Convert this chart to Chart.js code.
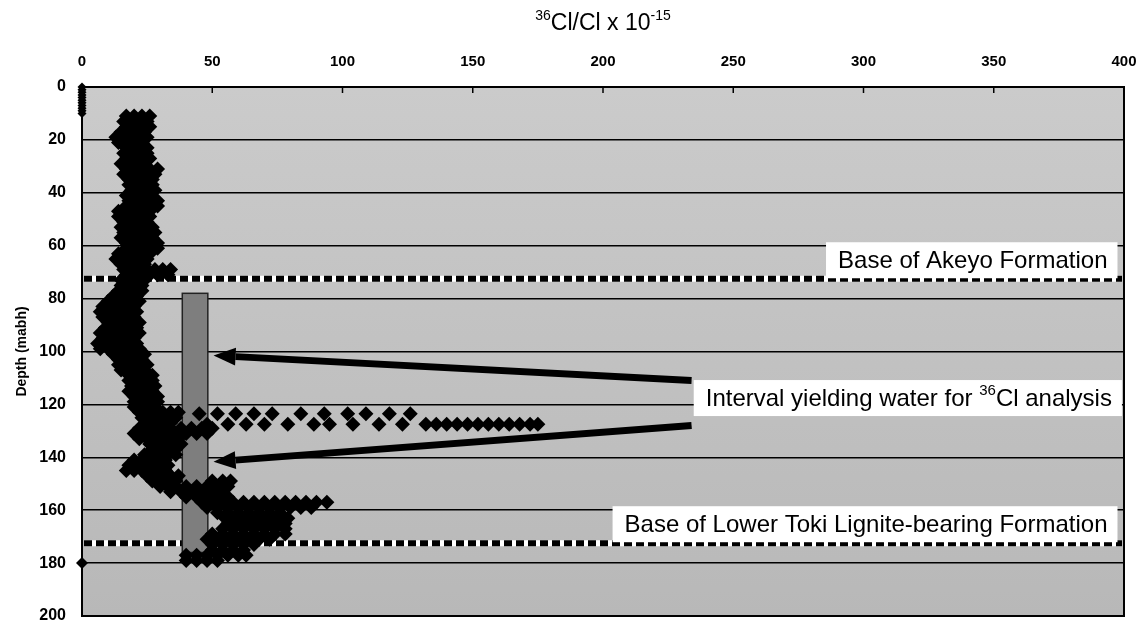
<!DOCTYPE html>
<html lang="en">
<head>
<meta charset="UTF-8">
<title>36Cl/Cl depth profile</title>
<script src="https://cdn.jsdelivr.net/npm/chart.js@4.4.1/dist/chart.umd.min.js"></script>
<style>
  html, body { margin: 0; padding: 0; background: #ffffff; }
  #wrap { width: 1146px; height: 626px; }
</style>
</head>
<body>
<div id="wrap"><canvas id="profile" width="1146" height="626"></canvas></div>
<script>
// depth (mabh) of each row of readings, and the 36Cl/Cl (x 10^-15) values read at that depth
const rowDepth = [
  11, 13, 15, 17, 19, 21, 23, 25, 27, 29,
  31, 33, 35, 37, 39, 41, 43, 45, 47, 49,
  51, 53, 55, 57, 59, 61, 63, 65, 67, 69,
  71, 73, 75, 77, 79, 81, 83, 85, 87, 89,
  91, 93, 95, 97, 99, 101, 103, 105, 107, 109,
  111, 113, 115, 117, 119, 121, 123, 123.5, 125, 127,
  127.5, 129, 131, 133, 135, 137, 139, 141, 143, 145,
  147, 149, 151, 153, 155, 157, 159, 161, 163, 165,
  167, 169, 171, 173, 175, 177, 179
];
const rowRatio = [
  [17, 20, 23, 26], [16, 19, 22, 25], [17, 20, 23, 26], [15, 18, 21, 24], [13, 16, 19, 22, 25],
  [14, 17, 20, 23], [17, 20, 23, 25], [16, 19, 22, 25], [17, 20, 23, 26], [15, 18, 21, 24],
  [17, 20, 23, 26, 29], [16, 19, 22, 25, 28], [18, 21, 24, 27], [18, 21, 24, 27], [19, 22, 25, 28],
  [17, 20, 23, 26], [18, 21, 24, 27, 29], [17, 20, 23, 26, 29], [14, 17, 20, 23, 26], [14, 17, 20, 23, 26],
  [16, 19, 22, 25], [15, 18, 21, 24, 27], [16, 19, 22, 25, 28], [15, 18, 21, 24, 27], [17, 20, 23, 26, 29],
  [17, 20, 23, 26, 29], [14, 17, 20, 23, 26], [13, 16, 19, 22, 25], [15, 18, 21, 24], [16, 19, 22, 25, 28, 31, 34],
  [17, 20, 23, 26, 29, 33], [15, 18, 21, 24], [15, 18, 21, 23], [14, 17, 20, 23], [12, 15, 18, 21],
  [10, 13, 16, 19, 22], [8, 11, 14, 17, 20], [7, 10, 13, 16, 19, 21], [8, 11, 14, 17, 20], [10, 13, 16, 19, 22],
  [9, 12, 15, 18, 21], [7, 10, 13, 16, 19, 22], [8, 11, 14, 17, 20], [6, 9, 12, 15, 18, 21], [7, 10, 13, 16, 19, 22],
  [12, 15, 18, 21, 24], [14, 17, 20, 23], [14, 17, 20, 23, 25], [15, 18, 21, 24], [18, 21, 24, 27],
  [18, 21, 24, 27], [19, 22, 25, 28], [18, 21, 24, 27], [20, 23, 26, 29], [20, 23, 26, 29],
  [20, 23, 26, 28], [22, 25, 28, 31, 34, 37],
  [45, 52, 59, 66, 73, 84, 93, 102, 109, 118, 126],
  [23, 26, 29, 32, 36], [25, 28, 31, 34],
  [48, 56, 63, 70, 79, 89, 95, 104, 114, 123, 132, 136, 140, 144, 148, 152, 156, 160, 164, 168, 172, 175],
  [22, 25, 28, 31, 34, 38, 42, 46, 50], [20, 23, 26, 29, 32, 36, 40, 44, 48], [22, 25, 28, 31, 34, 37],
  [26, 29, 32, 35, 38], [27, 30, 33, 36], [24, 27, 30, 33, 36], [20, 23, 26, 29, 32],
  [18, 21, 24, 27, 30, 33], [17, 20, 23, 26, 29, 32],
  [25, 28, 31, 34, 37], [27, 30, 33, 36, 50, 54, 57], [30, 33, 36, 40, 44, 48, 52, 56],
  [34, 38, 42, 46, 50, 54], [40, 44, 48, 52, 56],
  [46, 50, 54, 58, 62, 66, 70, 74, 78, 82, 86, 90, 94], [48, 52, 56, 60, 64, 68, 72, 76, 80, 84, 88],
  [52, 56, 60, 64, 68, 72, 76], [55, 59, 63, 67, 71, 75, 79], [56, 60, 64, 68, 72, 76, 78],
  [54, 58, 62, 66, 70, 74, 78], [50, 54, 58, 62, 66, 70, 74, 78], [48, 52, 56, 60, 64, 68, 72],
  [50, 54, 58, 62, 66], [50, 54, 58, 62], [40, 44, 48, 52, 56, 60, 63], [40, 44, 48, 52]
];

// shallow readings plotted at zero, and the single zero reading at the bottom
const surfaceDepth = [0, 1, 2, 3, 4, 5, 6, 7, 8, 9, 10];
const surfaceRatio = [0, 0, 0, 0, 0, 0, 0, 0, 0, 0, 0];
const bottomDepth = [180];
const bottomRatio = [0];

// formation boundaries
const formationDepth = [72.5, 172.5];
const formationName = ['Base of Akeyo Formation', 'Base of Lower Toki Lignite-bearing Formation'];

// sampled interval (the grey bar)
const intervalRatio = [38.5, 48.3];
const intervalDepth = [78, 176];

// arrows from the label to the interval: [ratio, depth]
const arrowFrom = [[234, 111], [234, 128]];
const arrowTo = [[50.5, 101.5], [50.5, 141.7]];

const FONT = '"Liberation Sans", Arial, Helvetica, sans-serif';

const points = [];
rowDepth.forEach(function (d, i) {
  rowRatio[i].forEach(function (v) { points.push({ x: v, y: d }); });
});

function pairs(xs, ys) {
  return xs.map(function (v, i) { return { x: v, y: ys[i] }; });
}

// text with superscript pieces, x = left edge, y = middle
function richWidth(ctx, parts, size) {
  let w = 0;
  parts.forEach(function (p) {
    ctx.font = (p.sup ? Math.round(size * 0.62) : size) + 'px ' + FONT;
    w += ctx.measureText(p.t).width;
  });
  return w;
}
function drawRich(ctx, parts, x, y, size) {
  let cx = x;
  ctx.textBaseline = 'middle';
  ctx.textAlign = 'left';
  parts.forEach(function (p) {
    ctx.font = (p.sup ? Math.round(size * 0.62) : size) + 'px ' + FONT;
    ctx.fillText(p.t, cx, p.sup ? y - size * 0.33 : y);
    cx += ctx.measureText(p.t).width;
  });
}

const labels = [
  { parts: [{ t: formationName[0] }], right: 397.5, depth: 65.5 },
  { parts: [{ t: 'Interval yielding water for ' }, { t: '36', sup: true }, { t: 'Cl analysis' }], right: 399.2, depth: 117.6 },
  { parts: [{ t: formationName[1] }], right: 397.5, depth: 165.3 }
];

const profilePlugin = {
  id: 'profile',
  beforeDraw: function (chart) {
    const ctx = chart.ctx, a = chart.chartArea;
    ctx.save();
    ctx.fillStyle = '#ffffff';
    ctx.fillRect(0, 0, chart.width, chart.height);
    const g = ctx.createLinearGradient(0, a.top, 0, a.bottom);
    g.addColorStop(0, '#cbcbcb');
    g.addColorStop(1, '#b8b8b8');
    ctx.fillStyle = g;
    ctx.fillRect(a.left, a.top, a.right - a.left, a.bottom - a.top);
    ctx.restore();
  },
  beforeDatasetsDraw: function (chart) {
    const ctx = chart.ctx, a = chart.chartArea;
    const xs = chart.scales.x, ys = chart.scales.y;
    ctx.save();
    // frame and inward ticks on top
    ctx.strokeStyle = '#000';
    ctx.lineWidth = 2;
    ctx.strokeRect(a.left, a.top, a.right - a.left, a.bottom - a.top);
    ctx.lineWidth = 1.5;
    xs.ticks.forEach(function (t) {
      const px = xs.getPixelForValue(t.value);
      ctx.beginPath();
      ctx.moveTo(px, a.top);
      ctx.lineTo(px, a.top + 6);
      ctx.stroke();
    });
    // formation boundaries: thick dotted lines
    formationDepth.forEach(function (d) {
      const py = ys.getPixelForValue(d);
      ctx.lineWidth = 6;
      ctx.setLineDash([]);
      ctx.strokeStyle = '#ffffff';
      ctx.beginPath();
      ctx.moveTo(a.left + 2, py);
      ctx.lineTo(a.right - 2, py);
      ctx.stroke();
      ctx.setLineDash([8, 4]);
      ctx.strokeStyle = '#000';
      ctx.beginPath();
      ctx.moveTo(a.left + 2, py);
      ctx.lineTo(a.right - 2, py);
      ctx.stroke();
    });
    ctx.setLineDash([]);
    // sampled interval bar
    const x0 = xs.getPixelForValue(intervalRatio[0]), x1 = xs.getPixelForValue(intervalRatio[1]);
    const y0 = ys.getPixelForValue(intervalDepth[0]), y1 = ys.getPixelForValue(intervalDepth[1]);
    ctx.fillStyle = '#7e7e7e';
    ctx.fillRect(x0, y0, x1 - x0, y1 - y0);
    ctx.lineWidth = 1.5;
    ctx.strokeStyle = '#222';
    ctx.strokeRect(x0, y0, x1 - x0, y1 - y0);
    ctx.restore();
  },
  afterDatasetsDraw: function (chart) {
    const ctx = chart.ctx;
    const xs = chart.scales.x, ys = chart.scales.y;
    ctx.save();
    // arrows
    arrowFrom.forEach(function (f, i) {
      const sx = xs.getPixelForValue(f[0]), sy = ys.getPixelForValue(f[1]);
      const ex = xs.getPixelForValue(arrowTo[i][0]), ey = ys.getPixelForValue(arrowTo[i][1]);
      const ang = Math.atan2(ey - sy, ex - sx);
      const headL = 22, headW = 9;
      const bx = ex - Math.cos(ang) * headL, by = ey - Math.sin(ang) * headL;
      ctx.strokeStyle = '#000';
      ctx.lineWidth = 7;
      ctx.beginPath();
      ctx.moveTo(sx, sy);
      ctx.lineTo(bx, by);
      ctx.stroke();
      ctx.fillStyle = '#000';
      ctx.beginPath();
      ctx.moveTo(ex, ey);
      ctx.lineTo(bx - Math.sin(ang) * headW, by + Math.cos(ang) * headW);
      ctx.lineTo(bx + Math.sin(ang) * headW, by - Math.cos(ang) * headW);
      ctx.closePath();
      ctx.fill();
    });
    // boxed labels
    const size = 24;
    labels.forEach(function (l) {
      const w = richWidth(ctx, l.parts, size);
      const right = xs.getPixelForValue(l.right);
      const cy = ys.getPixelForValue(l.depth);
      const left = right - w - 22;
      ctx.fillStyle = '#ffffff';
      ctx.fillRect(left, cy - 18, w + 22, 36);
      ctx.fillStyle = '#000';
      drawRich(ctx, l.parts, left + 12, cy + 1, size);
    });
    ctx.restore();
  },
  afterDraw: function (chart) {
    const ctx = chart.ctx, a = chart.chartArea;
    const parts = [{ t: '36', sup: true }, { t: 'Cl/Cl x 10' }, { t: '-15', sup: true }];
    const size = 23;
    ctx.save();
    ctx.fillStyle = '#000';
    const w = richWidth(ctx, parts, size);
    drawRich(ctx, parts, (a.left + a.right) / 2 - w / 2, 24, size);
    ctx.restore();
  }
};

new Chart(document.getElementById('profile'), {
  type: 'scatter',
  data: {
    datasets: [
      {
        label: 'surface',
        data: pairs(surfaceRatio, surfaceDepth),
        pointStyle: 'rectRot',
        pointRadius: 4.5,
        backgroundColor: '#000',
        borderWidth: 0,
        clip: false
      },
      {
        label: 'bottom',
        data: pairs(bottomRatio, bottomDepth),
        pointStyle: 'rectRot',
        pointRadius: 6,
        backgroundColor: '#000',
        borderWidth: 0,
        clip: false
      },
      {
        label: '36Cl/Cl',
        data: points,
        pointStyle: 'rectRot',
        pointRadius: 7.5,
        backgroundColor: '#000',
        borderWidth: 0
      }
    ]
  },
  options: {
    responsive: false,
    animation: false,
    devicePixelRatio: 1,
    events: [],
    layout: { padding: { left: 0, top: 0, right: 22, bottom: 10 } },
    plugins: {
      legend: { display: false },
      tooltip: { enabled: false }
    },
    scales: {
      x: {
        type: 'linear',
        position: 'top',
        min: 0,
        max: 400,
        ticks: {
          stepSize: 50,
          padding: 16,
          color: '#000',
          font: { family: FONT, size: 15, weight: 'bold' }
        },
        grid: { display: false, drawTicks: false },
        border: { display: false },
        afterFit: function (s) { s.height = 87; s.paddingLeft = 0; s.paddingRight = 0; }
      },
      y: {
        type: 'linear',
        reverse: true,
        min: 0,
        max: 200,
        ticks: {
          stepSize: 20,
          padding: 16,
          color: '#000',
          font: { family: FONT, size: 16, weight: 'bold' }
        },
        grid: { color: '#000', lineWidth: 1.5, drawTicks: false },
        border: { display: false },
        title: {
          display: true,
          text: 'Depth (mabh)',
          color: '#000',
          padding: { top: 14, bottom: 0 },
          font: { family: FONT, size: 14, weight: 'bold' }
        },
        afterFit: function (s) { s.width = 82; s.paddingTop = 0; s.paddingBottom = 0; }
      }
    }
  },
  plugins: [profilePlugin]
});
</script>
</body>
</html>
